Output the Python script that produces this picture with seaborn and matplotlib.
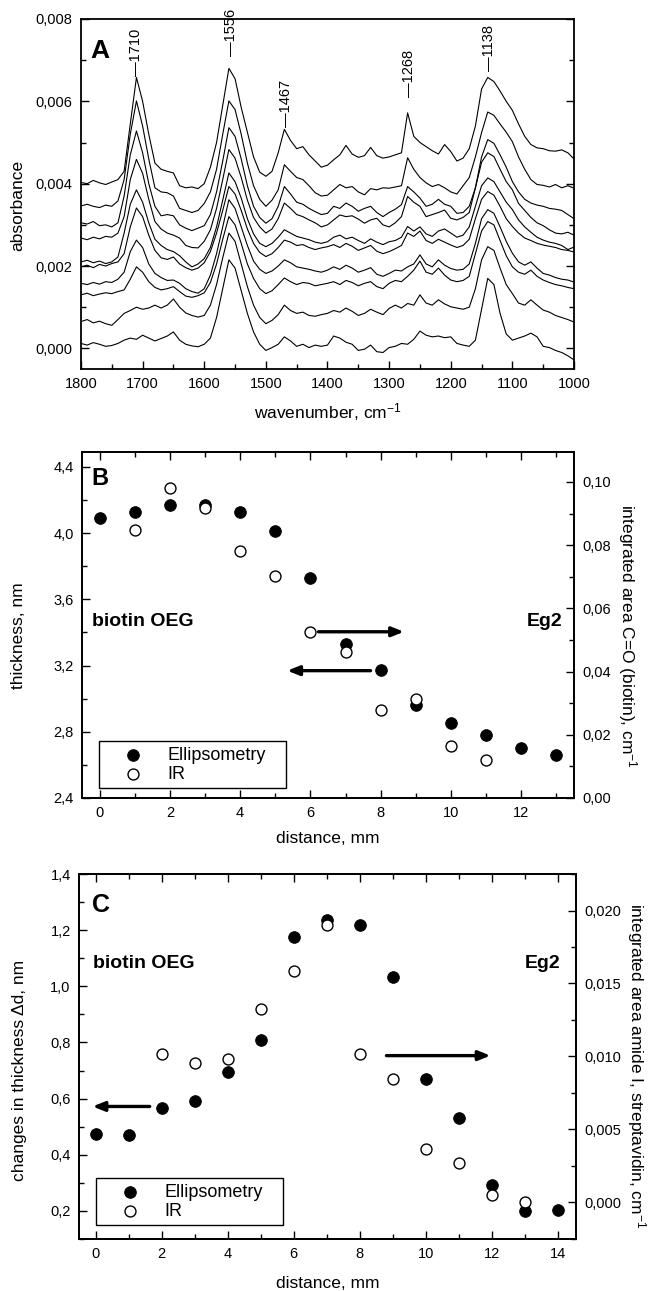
import numpy as np
import pandas as pd
import seaborn as sns
import matplotlib
matplotlib.use('Agg')
import matplotlib.pyplot as plt
from matplotlib.ticker import MultipleLocator, FuncFormatter

# ---------------- data ----------------
# panel A: IR spectra, absorbance in units of 1e-3, from 1800 to 1000 cm-1 in steps of 10
wavenumber = list(range(1800, 999, -10))

spec_0 = [0.12, 0.08, 0.14, 0.10, 0.05, 0.07, 0.12, 0.20, 0.25, 0.22,
          0.32, 0.25, 0.18, 0.24, 0.30, 0.40, 0.20, 0.10, 0.06, 0.04,
          0.10, 0.25, 0.75, 1.45, 2.15, 1.95, 1.40, 0.85, 0.40, 0.10,
          -0.05, 0.02, 0.10, 0.28, 0.18, 0.05, 0.10, 0.02, 0.08, 0.05,
          0.08, 0.30, 0.25, 0.15, 0.10, -0.05, -0.02, 0.08, -0.08, -0.10,
          0.02, 0.05, 0.12, 0.10, 0.22, 0.42, 0.32, 0.28, 0.30, 0.26,
          0.28, 0.12, 0.08, 0.05, 0.20, 0.95, 1.70, 1.55, 0.85, 0.35,
          0.20, 0.25, 0.30, 0.37, 0.28, 0.05, 0.02, -0.05, -0.10, -0.18,
          -0.28]
spec_1 = [0.65, 0.70, 0.62, 0.66, 0.60, 0.56, 0.70, 0.85, 0.92, 1.00,
          0.95, 0.98, 1.05, 0.98, 1.05, 1.20, 1.00, 0.86, 0.80, 0.76,
          0.80, 1.05, 1.55, 2.20, 2.80, 2.60, 2.05, 1.50, 1.05, 0.75,
          0.60, 0.68, 0.82, 1.05, 0.92, 0.85, 0.88, 0.80, 0.78, 0.82,
          0.85, 0.92, 0.88, 0.98, 0.90, 0.80, 0.85, 0.95, 0.88, 0.82,
          0.97, 1.05, 0.98, 1.09, 1.05, 1.30, 1.10, 1.05, 1.18, 1.08,
          1.01, 0.98, 0.95, 1.00, 1.45, 2.15, 2.47, 2.38, 1.95, 1.55,
          1.33, 1.10, 1.05, 1.18, 1.05, 0.93, 0.88, 0.80, 0.75, 0.70,
          0.64]
spec_2 = [1.30, 1.34, 1.28, 1.32, 1.35, 1.33, 1.38, 1.42, 1.68, 1.98,
          1.85, 1.62, 1.48, 1.42, 1.45, 1.50, 1.38, 1.27, 1.24, 1.28,
          1.35, 1.60, 2.05, 2.65, 3.20, 3.00, 2.55, 2.05, 1.70, 1.45,
          1.33, 1.40, 1.55, 1.71, 1.62, 1.55, 1.60, 1.58, 1.52, 1.55,
          1.58, 1.62, 1.55, 1.65, 1.60, 1.52, 1.58, 1.62, 1.50, 1.45,
          1.58, 1.65, 1.62, 1.75, 1.90, 2.12, 1.85, 1.80, 1.95, 1.78,
          1.66, 1.62, 1.65, 1.75, 2.30, 2.85, 3.08, 3.00, 2.62, 2.25,
          1.98, 1.85, 1.80, 1.90, 1.75, 1.66, 1.60, 1.55, 1.52, 1.48,
          1.45]
spec_3 = [1.58, 1.55, 1.60, 1.56, 1.62, 1.60, 1.68, 1.85, 2.35, 2.63,
          2.45, 2.05, 1.82, 1.72, 1.65, 1.66, 1.58, 1.45, 1.38, 1.34,
          1.45, 1.78, 2.30, 2.95, 3.61, 3.40, 2.95, 2.50, 2.12, 1.92,
          1.82, 1.88, 2.00, 2.15, 2.08, 1.98, 1.95, 1.92, 1.88, 1.85,
          1.90, 1.98, 1.92, 2.02, 1.95, 1.85, 1.90, 1.96, 1.80, 1.75,
          1.82, 1.90, 1.88, 1.98, 2.05, 2.27, 2.05, 1.98, 2.15, 2.02,
          1.94, 1.90, 1.92, 2.05, 2.55, 3.15, 3.37, 3.28, 2.95, 2.60,
          2.31, 2.10, 2.02, 2.10, 1.95, 1.82, 1.78, 1.72, 1.68, 1.66,
          1.61]
spec_4 = [1.98, 2.02, 1.96, 2.04, 2.00, 2.06, 2.10, 2.30, 2.95, 3.41,
          3.20, 2.75, 2.38, 2.20, 2.16, 2.22, 2.05, 1.96, 1.90, 1.95,
          2.08, 2.35, 2.80, 3.35, 3.93, 3.75, 3.35, 2.90, 2.55, 2.33,
          2.23, 2.30, 2.45, 2.63, 2.58, 2.50, 2.52, 2.45, 2.40, 2.44,
          2.47, 2.52, 2.45, 2.55, 2.48, 2.38, 2.44, 2.50, 2.36, 2.30,
          2.35, 2.42, 2.50, 2.80, 2.72, 2.85, 2.62, 2.55, 2.65, 2.58,
          2.51, 2.45, 2.50, 2.65, 3.15, 3.62, 3.81, 3.72, 3.45, 3.15,
          2.96, 2.80, 2.68, 2.62, 2.55, 2.51, 2.48, 2.45, 2.40, 2.38,
          2.34]
spec_5 = [2.10, 2.14, 2.08, 2.12, 2.06, 2.10, 2.22, 2.80, 3.50, 3.85,
          3.55, 3.05, 2.65, 2.50, 2.40, 2.35, 2.25, 2.10, 1.98, 2.05,
          2.18, 2.45, 2.95, 3.60, 4.26, 4.05, 3.65, 3.15, 2.78, 2.55,
          2.47, 2.55, 2.70, 2.88, 2.80, 2.72, 2.68, 2.64, 2.58, 2.55,
          2.59, 2.70, 2.75, 2.66, 2.70, 2.62, 2.55, 2.66, 2.58, 2.52,
          2.59, 2.62, 2.70, 2.96, 2.85, 2.95, 2.78, 2.72, 2.85, 2.90,
          2.80, 2.70, 2.75, 2.95, 3.45, 3.95, 4.14, 4.05, 3.80, 3.55,
          3.37, 3.12, 2.95, 2.82, 2.70, 2.63, 2.58, 2.55, 2.50, 2.40,
          2.46]
spec_6 = [2.68, 2.64, 2.70, 2.66, 2.72, 2.70, 2.80, 3.20, 4.10, 4.59,
          4.25, 3.62, 3.08, 2.90, 2.80, 2.75, 2.68, 2.50, 2.45, 2.44,
          2.60, 2.88, 3.40, 4.10, 4.83, 4.62, 4.15, 3.60, 3.18, 2.95,
          2.80, 2.90, 3.15, 3.53, 3.40, 3.25, 3.20, 3.12, 3.05, 2.95,
          3.00, 3.12, 3.24, 3.20, 3.22, 3.14, 3.04, 3.12, 3.16, 3.00,
          2.95, 3.05, 3.20, 3.69, 3.55, 3.45, 3.20, 3.25, 3.30, 3.36,
          3.16, 3.12, 3.18, 3.30, 3.90, 4.52, 4.75, 4.66, 4.35, 4.05,
          3.85, 3.52, 3.35, 3.18, 3.05, 2.98, 2.88, 2.80, 2.78, 2.82,
          2.75]
spec_7 = [3.05, 3.02, 3.08, 2.98, 3.00, 2.95, 3.05, 3.70, 4.70, 5.28,
          4.75, 4.00, 3.45, 3.22, 3.25, 3.22, 3.00, 2.92, 2.86, 2.92,
          2.98, 3.25, 3.80, 4.55, 5.36, 5.15, 4.60, 3.95, 3.45, 3.18,
          3.04, 3.15, 3.45, 3.93, 3.75, 3.55, 3.50, 3.40, 3.32, 3.25,
          3.28, 3.45, 3.40, 3.53, 3.45, 3.33, 3.40, 3.45, 3.30, 3.20,
          3.30, 3.38, 3.49, 3.93, 3.80, 3.65, 3.45, 3.50, 3.62, 3.50,
          3.45, 3.28, 3.30, 3.45, 3.90, 4.65, 5.07, 4.98, 4.70, 4.40,
          4.05, 3.80, 3.62, 3.53, 3.48, 3.45, 3.40, 3.38, 3.35, 3.25,
          3.15]
spec_8 = [3.46, 3.50, 3.45, 3.42, 3.48, 3.45, 3.58, 4.10, 5.20, 6.01,
          5.40, 4.60, 3.90, 3.80, 3.78, 3.70, 3.40, 3.35, 3.30, 3.35,
          3.52, 3.80, 4.35, 5.20, 6.01, 5.80, 5.20, 4.50, 3.95, 3.62,
          3.45, 3.60, 3.85, 4.46, 4.30, 4.15, 4.10, 3.95, 3.78, 3.70,
          3.72, 3.85, 3.98, 3.90, 3.93, 3.80, 3.73, 3.88, 3.85, 3.90,
          3.89, 3.92, 3.95, 4.63, 4.35, 4.15, 4.02, 3.93, 3.98, 3.90,
          3.80, 3.75, 3.95, 4.15, 4.65, 5.24, 5.74, 5.66, 5.45, 5.25,
          5.02, 4.65, 4.35, 4.10, 3.98, 3.96, 3.92, 3.98, 3.90, 3.95,
          3.89]
spec_9 = [4.03, 4.00, 4.08, 4.02, 3.98, 4.04, 4.10, 4.30, 5.45, 6.58,
          6.00, 5.20, 4.50, 4.35, 4.30, 4.26, 3.95, 3.90, 3.92, 3.88,
          4.00, 4.40, 5.00, 5.90, 6.80, 6.55, 5.85, 5.25, 4.65, 4.28,
          4.18, 4.30, 4.75, 5.32, 5.05, 4.85, 4.90, 4.70, 4.55, 4.40,
          4.45, 4.58, 4.70, 4.93, 4.72, 4.64, 4.68, 4.88, 4.68, 4.62,
          4.65, 4.70, 4.75, 5.72, 5.15, 5.00, 4.90, 4.80, 4.72, 4.95,
          4.78, 4.55, 4.62, 4.85, 5.40, 6.30, 6.58, 6.48, 6.25, 6.00,
          5.78, 5.45, 5.15, 4.95, 4.87, 4.85, 4.80, 4.79, 4.82, 4.75,
          4.60]

peak_labels = [1710, 1556, 1467, 1268, 1138]
peak_label_y = [0.00662, 0.00710, 0.00537, 0.00610, 0.00673]

# panel B
dist_b = list(range(14))
thickness_b = [4.09, 4.13, 4.17, 4.17, 4.13, 4.01, 3.73, 3.33, 3.17, 2.96, 2.85, 2.78, 2.70, 2.66]
ir_dist_b = list(range(1, 12))
ir_area_b = [0.0847, 0.0980, 0.0919, 0.0782, 0.0703, 0.0525, 0.0463, 0.0278, 0.0312, 0.0166, 0.0120]

# panel C
dist_c = list(range(15))
delta_d_c = [0.475, 0.471, 0.567, 0.593, 0.694, 0.810, 1.176, 1.237, 1.219, 1.033, 0.670, 0.530, 0.293, 0.198, 0.204]
ir_dist_c = list(range(2, 14))
ir_area_c = [0.0102, 0.00952, 0.00986, 0.01325, 0.01588, 0.01904, 0.01016, 0.00844, 0.00364, 0.00268, 0.0005, 0.00004]

# ---------------- style ----------------
sns.set_theme(style='ticks')
plt.rcParams['font.family'] = ['Liberation Sans', 'DejaVu Sans']
plt.rcParams['mathtext.fontset'] = 'custom'
plt.rcParams['mathtext.rm'] = 'Liberation Sans'
plt.rcParams['mathtext.it'] = 'Liberation Sans:italic'
plt.rcParams['axes.linewidth'] = 1.3
plt.rcParams['axes.edgecolor'] = 'black'
plt.rcParams['text.color'] = 'black'
plt.rcParams['axes.labelcolor'] = 'black'
plt.rcParams['xtick.color'] = 'black'
plt.rcParams['ytick.color'] = 'black'

TICK_FS = 10.5
LABEL_FS = 12.5


def comma_fmt(decimals):
    def f(v, pos):
        if abs(v) < 1e-12:
            v = 0.0
        return f"{v:.{decimals}f}".replace('.', ',')
    return FuncFormatter(f)


def style_ticks(ax, **kw):
    ax.tick_params(which='both', direction='in', labelsize=TICK_FS, colors='black',
                   labelcolor='black', width=1.0, pad=6, **kw)
    ax.tick_params(which='major', length=6)
    ax.tick_params(which='minor', length=3.5)


fig = plt.figure(figsize=(6.52, 12.91), dpi=100)

# ---------------- panel A ----------------
axA = fig.add_axes([0.1242, 0.7142, 0.7562, 0.2711])
traces = [spec_0, spec_1, spec_2, spec_3, spec_4, spec_5, spec_6, spec_7, spec_8, spec_9]
spec_df = pd.DataFrame({
    'wavenumber': np.tile(wavenumber, len(traces)),
    'absorbance': np.concatenate(traces) / 1000.0,
    'trace': np.repeat(np.arange(len(traces)), len(wavenumber)),
})
sns.lineplot(data=spec_df, x='wavenumber', y='absorbance', units='trace', estimator=None,
             color='black', linewidth=0.8, legend=False, ax=axA)
axA.set_xlim(1800, 1000)
axA.set_ylim(-0.0005, 0.008)
axA.xaxis.set_major_locator(MultipleLocator(100))
axA.xaxis.set_minor_locator(MultipleLocator(50))
axA.yaxis.set_major_locator(MultipleLocator(0.002))
axA.yaxis.set_minor_locator(MultipleLocator(0.001))
axA.yaxis.set_major_formatter(comma_fmt(3))
style_ticks(axA, right=True, top=False)
for wn, yl in zip(peak_labels, peak_label_y):
    axA.text(wn, yl, '\u2014' + str(wn), rotation=90, ha='center', va='bottom', fontsize=TICK_FS)
axA.text(0.018, 0.889, 'A', transform=axA.transAxes, fontsize=19, fontweight='heavy', va='baseline')
axA.set_xlabel('wavenumber, cm$^{-1}$', fontsize=LABEL_FS, va='center')
axA.set_ylabel('absorbance', fontsize=LABEL_FS, va='center')
axA.xaxis.set_label_coords(0.5, -0.123)
axA.yaxis.set_label_coords(-0.128, 0.466)

# ---------------- panel B ----------------
axB = fig.add_axes([0.1258, 0.3819, 0.7546, 0.2680])
axB2 = axB.twinx()
sns.scatterplot(x=dist_b, y=thickness_b, color='black', edgecolor='black', s=70, ax=axB, zorder=3)
sns.scatterplot(x=ir_dist_b, y=ir_area_b, color='white', edgecolor='black', linewidth=1.0, s=62, ax=axB2, zorder=3)
axB.set_xlim(-0.5, 13.5)
axB.set_ylim(2.4, 4.49)
axB2.set_ylim(0, 0.1095)
axB.xaxis.set_major_locator(MultipleLocator(2))
axB.xaxis.set_minor_locator(MultipleLocator(1))
axB.yaxis.set_major_locator(MultipleLocator(0.4))
axB.yaxis.set_minor_locator(MultipleLocator(0.2))
axB.yaxis.set_major_formatter(comma_fmt(1))
axB2.yaxis.set_major_locator(MultipleLocator(0.02))
axB2.yaxis.set_minor_locator(MultipleLocator(0.01))
axB2.yaxis.set_major_formatter(comma_fmt(2))
style_ticks(axB, top=True, right=False)
style_ticks(axB2)
axB.text(0.020, 0.905, 'B', transform=axB.transAxes, fontsize=17, fontweight='heavy', va='baseline')
axB.text(0.021, 0.498, 'biotin OEG', transform=axB.transAxes, fontsize=14, fontweight='bold', va='baseline')
axB.text(0.977, 0.498, 'Eg2', transform=axB.transAxes, fontsize=14, fontweight='bold', va='baseline', ha='right')
arrow = dict(arrowstyle='-|>,head_length=0.5,head_width=0.2', color='black', lw=2.4,
             mutation_scale=14, shrinkA=0, shrinkB=0)
axB2.annotate('', xy=(8.66, 0.0526), xytext=(6.23, 0.0526), arrowprops=arrow)
axB.annotate('', xy=(5.34, 3.169), xytext=(7.71, 3.169), arrowprops=arrow)
axB.set_xlabel('distance, mm', fontsize=LABEL_FS, va='center')
axB.set_ylabel('thickness, nm', fontsize=LABEL_FS, va='center')
axB2.set_ylabel('integrated area C=O (biotin), cm$^{-1}$', fontsize=LABEL_FS, rotation=270, va='center')
axB.xaxis.set_label_coords(0.5, -0.116)
axB.yaxis.set_label_coords(-0.129, 0.47)
axB2.yaxis.set_label_coords(1.108, 0.467)
legB = axB2.legend([axB.collections[0], axB2.collections[0]], ['Ellipsometry', 'IR'],
                   loc='lower left', bbox_to_anchor=(0.0346, 0.0289, 0.38, 0.159), mode='expand',
                   fontsize=13, frameon=True, fancybox=False, edgecolor='black', framealpha=1,
                   borderpad=0.3, labelspacing=0.1, handlelength=3.2, handletextpad=0.3,
                   borderaxespad=0, labelcolor='black')
legB.get_frame().set_linewidth(1.0)

# ---------------- panel C ----------------
axC = fig.add_axes([0.1212, 0.0403, 0.7623, 0.2827])
axC2 = axC.twinx()
sns.scatterplot(x=dist_c, y=delta_d_c, color='black', edgecolor='black', s=70, ax=axC, zorder=3)
sns.scatterplot(x=ir_dist_c, y=ir_area_c, color='white', edgecolor='black', linewidth=1.0, s=62, ax=axC2, zorder=3)
axC.set_xlim(-0.5, 14.55)
axC.set_ylim(0.1, 1.4)
axC2.set_ylim(-0.0025, 0.0225)
axC.xaxis.set_major_locator(MultipleLocator(2))
axC.xaxis.set_minor_locator(MultipleLocator(1))
axC.yaxis.set_major_locator(MultipleLocator(0.2))
axC.yaxis.set_minor_locator(MultipleLocator(0.1))
axC.yaxis.set_major_formatter(comma_fmt(1))
axC2.yaxis.set_major_locator(MultipleLocator(0.005))
axC2.yaxis.set_minor_locator(MultipleLocator(0.0025))
axC2.yaxis.set_major_formatter(comma_fmt(3))
style_ticks(axC, top=True, right=False)
style_ticks(axC2)
axC.text(0.026, 0.897, 'C', transform=axC.transAxes, fontsize=18, fontweight='heavy', va='baseline')
axC.text(0.0276, 0.743, 'biotin OEG', transform=axC.transAxes, fontsize=14, fontweight='bold', va='baseline')
axC.text(0.968, 0.743, 'Eg2', transform=axC.transAxes, fontsize=14, fontweight='bold', va='baseline', ha='right')
axC.annotate('', xy=(-0.09, 0.572), xytext=(1.64, 0.572), arrowprops=arrow)
axC2.annotate('', xy=(11.96, 0.01006), xytext=(8.81, 0.01006), arrowprops=arrow)
axC.set_xlabel('distance, mm', fontsize=LABEL_FS, va='center')
axC.set_ylabel('changes in thickness \u0394d, nm', fontsize=LABEL_FS, va='center')
axC2.set_ylabel('integrated area amide I, streptavidin, cm$^{-1}$', fontsize=LABEL_FS, rotation=270, va='center')
axC.xaxis.set_label_coords(0.5, -0.123)
axC.yaxis.set_label_coords(-0.119, 0.463)
axC2.yaxis.set_label_coords(1.122, 0.474)
legC = axC2.legend([axC.collections[0], axC2.collections[0]], ['Ellipsometry', 'IR'],
                   loc='lower left', bbox_to_anchor=(0.0336, 0.0384, 0.3775, 0.157), mode='expand',
                   fontsize=13, frameon=True, fancybox=False, edgecolor='black', framealpha=1,
                   borderpad=0.3, labelspacing=0.1, handlelength=3.2, handletextpad=0.3,
                   borderaxespad=0, labelcolor='black')
legC.get_frame().set_linewidth(1.0)

for ax in (axA, axB, axB2, axC, axC2):
    for sp in ax.spines.values():
        sp.set_visible(True)
        sp.set_linewidth(1.3)
        sp.set_color('black')

fig.savefig('out.png', dpi=100)
